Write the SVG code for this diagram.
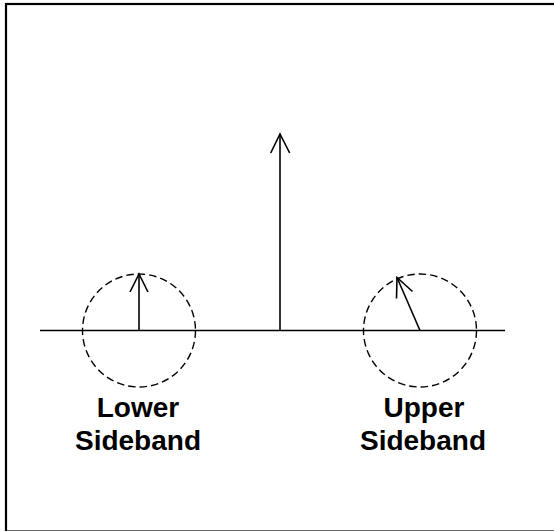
<svg xmlns="http://www.w3.org/2000/svg" width="554" height="531" viewBox="0 0 554 531">
<style>
.ln{stroke:#000;stroke-width:1.6;fill:none}
.ah{stroke:#000;stroke-width:1.6;fill:none;stroke-linejoin:miter}
.dash{stroke:#000;stroke-width:1.4;fill:none;stroke-dasharray:7.5,4}
.lbl{font-family:"Liberation Sans",Arial,sans-serif;font-weight:bold;font-size:28px;text-anchor:middle;fill:#000}
</style>
<rect x="0" y="0" width="554" height="531" fill="#fff"/>
<rect x="6" y="4" width="560" height="527.5" fill="none" stroke="#000" stroke-width="2.2"/>
<g id="connectors">
<line class="ln" x1="40" y1="330.5" x2="505" y2="330.5"/>
</g>
<g id="carrier">
<line class="ln" x1="280" y1="330.5" x2="280" y2="134"/>
<polyline class="ah" points="270.7,153 280,134 289.7,153"/>
</g>
<g id="lower-sideband">
<circle class="dash" cx="139" cy="330.5" r="56.5"/>
<line class="ln" x1="139" y1="330.5" x2="139" y2="274"/>
<polyline class="ah" points="130,292 139,274 148,292"/>
<text class="lbl" x="138" y="417">Lower</text>
<text class="lbl" x="138" y="449.5">Sideband</text>
</g>
<g id="upper-sideband">
<circle class="dash" cx="420" cy="330.5" r="56.5"/>
<line class="ln" x1="420" y1="330.5" x2="397" y2="277.5"/>
<polyline class="ah" points="396.5,298.5 397,277.5 412.5,291.5"/>
<text class="lbl" x="424" y="417">Upper</text>
<text class="lbl" x="423" y="449.5">Sideband</text>
</g>
</svg>
